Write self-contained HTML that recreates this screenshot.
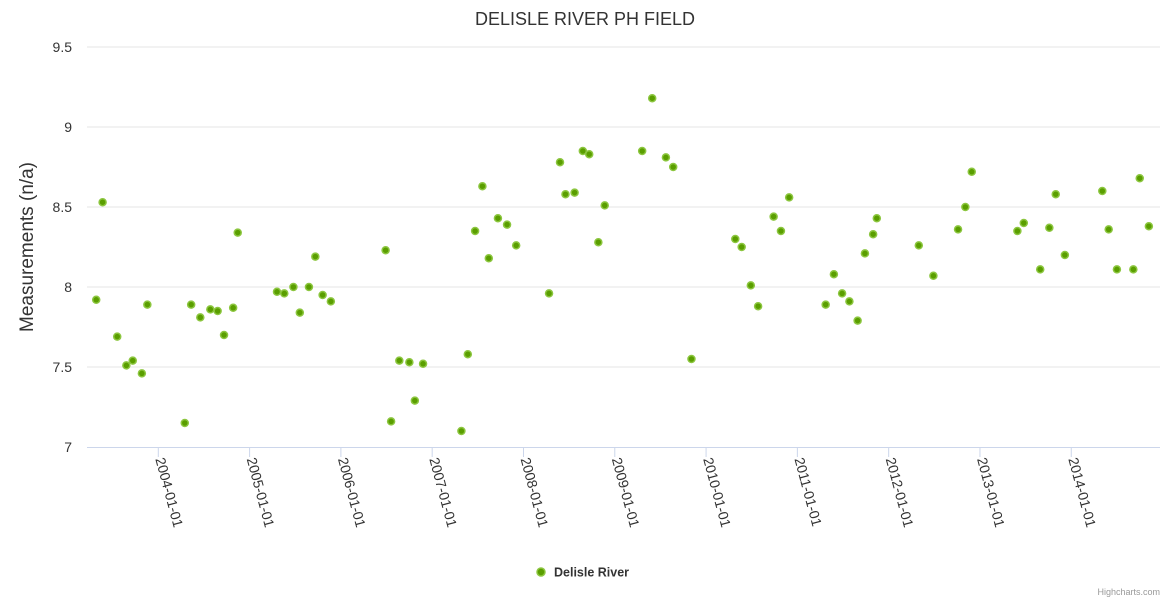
<!DOCTYPE html>
<html><head><meta charset="utf-8"><style>
body{margin:0;background:#fff;font-family:"Liberation Sans",sans-serif;}
svg text{font-family:"Liberation Sans",sans-serif;}
</style></head><body>
<svg id="chart" width="1170" height="600" xmlns="http://www.w3.org/2000/svg">
<rect width="1170" height="600" fill="#fff"/>
<text x="585" y="25" text-anchor="middle" font-size="18" fill="#333">DELISLE RIVER PH FIELD</text>
<text transform="translate(33,247) rotate(-90)" text-anchor="middle" font-size="19" fill="#333">Measurements (n/a)</text>
<g id="grid"></g><g id="xaxis"></g><g id="points"></g>
<g>
<circle cx="541" cy="572" r="4" fill="#5a9e00" stroke="#8cc63f" stroke-width="1.5"/>
<text x="554" y="576.5" font-size="12.5" font-weight="bold" fill="#333">Delisle River</text>
</g>
<text x="1160" y="595" text-anchor="end" font-size="9" fill="#999">Highcharts.com</text>
</svg>
<script>
const yTicks=[7,7.5,8,8.5,9,9.5];
const yTickLabels=["7","7.5","8","8.5","9","9.5"];
const xTicks=[2004,2005,2006,2007,2008,2009,2010,2011,2012,2013,2014];
const xTickLabels=["2004-01-01","2005-01-01","2006-01-01","2007-01-01","2008-01-01","2009-01-01","2010-01-01","2011-01-01","2012-01-01","2013-01-01","2014-01-01"];
const dates=[2003.32,2003.39,2003.55,2003.65,2003.72,2003.82,2003.88,2004.29,2004.36,2004.46,2004.57,2004.65,2004.72,2004.82,2004.87,2005.30,2005.38,2005.48,2005.55,2005.65,2005.72,2005.80,2005.89,2006.49,2006.55,2006.64,2006.75,2006.81,2006.90,2007.32,2007.39,2007.47,2007.55,2007.62,2007.72,2007.82,2007.92,2008.28,2008.40,2008.46,2008.56,2008.65,2008.72,2008.82,2008.89,2009.30,2009.41,2009.56,2009.64,2009.84,2010.32,2010.39,2010.49,2010.57,2010.74,2010.82,2010.91,2011.31,2011.40,2011.49,2011.57,2011.66,2011.74,2011.83,2011.87,2012.33,2012.49,2012.76,2012.84,2012.91,2013.41,2013.48,2013.66,2013.76,2013.83,2013.93,2014.34,2014.41,2014.50,2014.68,2014.75,2014.85];
const values=[7.92,8.53,7.69,7.51,7.54,7.46,7.89,7.15,7.89,7.81,7.86,7.85,7.70,7.87,8.34,7.97,7.96,8.00,7.84,8.00,8.19,7.95,7.91,8.23,7.16,7.54,7.53,7.29,7.52,7.10,7.58,8.35,8.63,8.18,8.43,8.39,8.26,7.96,8.78,8.58,8.59,8.85,8.83,8.28,8.51,8.85,9.18,8.81,8.75,7.55,8.30,8.25,8.01,7.88,8.44,8.35,8.56,7.89,8.08,7.96,7.91,7.79,8.21,8.33,8.43,8.26,8.07,8.36,8.50,8.72,8.35,8.40,8.11,8.37,8.58,8.20,8.60,8.36,8.11,8.11,8.68,8.38];
const NS="http://www.w3.org/2000/svg";
const L=87,R=1160,T=47,B=447,X0=2003.219,X1=2014.972,Y0=7,Y1=9.5;
function xs(v){return L+(v-X0)/(X1-X0)*(R-L);}
function ys(v){return B-(v-Y0)/(Y1-Y0)*(B-T);}
function mk(tag,attrs,parent){const e=document.createElementNS(NS,tag);for(const k in attrs)e.setAttribute(k,attrs[k]);parent.appendChild(e);return e;}
const grid=document.getElementById('grid'),xa=document.getElementById('xaxis'),pts=document.getElementById('points');
yTicks.forEach((t,i)=>{
  if(t!==Y0){const g=mk('line',{x1:L,x2:R,y1:ys(t),y2:ys(t),stroke:'#e6e6e6','stroke-width':1},grid);
  
  }
  const tx=mk('text',{x:72,y:ys(t)+5,'text-anchor':'end','font-size':14,fill:'#333'},grid);
  tx.textContent=yTickLabels[i];
  
  
});
const ax=mk('line',{x1:L,x2:R,y1:B+0.5,y2:B+0.5,stroke:'#ccd6eb','stroke-width':1},xa);


xTicks.forEach((t,i)=>{
  const x=xs(t);
  const tk=mk('line',{x1:x,x2:x,y1:B,y2:B+10,stroke:'#ccd6eb','stroke-width':1},xa);
  
  
  const tx=mk('text',{transform:`translate(${x-3},${B+12}) rotate(75)`,'font-size':14,fill:'#333'},xa);
  tx.textContent=xTickLabels[i];
  
  
});
dates.forEach((d,i)=>{
  const c=mk('circle',{cx:xs(d),cy:ys(values[i]),r:3.5,fill:'#5a9e00',stroke:'#8cc63f','stroke-width':1.5},pts);
  
  
});
</script>
</body></html>
